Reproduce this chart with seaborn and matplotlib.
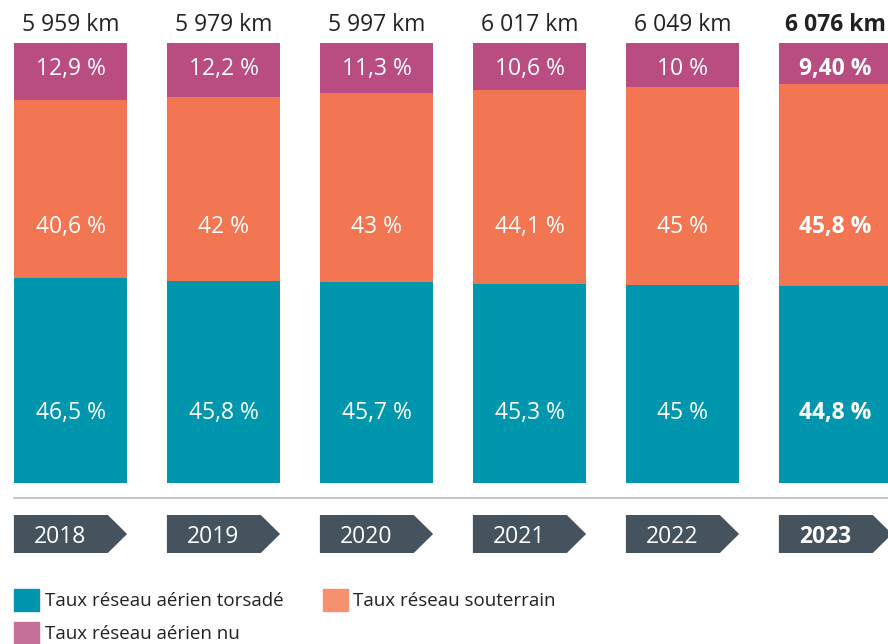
import matplotlib
matplotlib.use("Agg")
import matplotlib.pyplot as plt
from matplotlib.patches import Polygon, Patch
import seaborn as sns
import numpy as np

# donnees
annees = ["2018", "2019", "2020", "2021", "2022", "2023"]
longueur_km = ["5 959 km", "5 979 km", "5 997 km", "6 017 km", "6 049 km", "6 076 km"]
taux_torsade = [46.5, 45.8, 45.7, 45.3, 45.0, 44.8]
taux_souterrain = [40.6, 42.0, 43.0, 44.1, 45.0, 45.8]
taux_nu = [12.9, 12.2, 11.3, 10.6, 10.0, 9.4]
lbl_torsade = ["46,5 %", "45,8 %", "45,7 %", "45,3 %", "45 %", "44,8 %"]
lbl_souterrain = ["40,6 %", "42 %", "43 %", "44,1 %", "45 %", "45,8 %"]
lbl_nu = ["12,9 %", "12,2 %", "11,3 %", "10,6 %", "10 %", "9,40 %"]

c_torsade = "#0096AE"
c_souterrain = "#F27651"
c_nu = "#B94C81"
c_fleche = "#44535E"

sns.set_style("white")
plt.rcParams["font.family"] = ["Open Sans", "DejaVu Sans"]

fig = plt.figure(figsize=(8.88, 6.44), dpi=100)
ax = fig.add_axes([0, 0, 1, 1])

# barres empilees (on dessine du total vers le bas)
t = np.array(taux_torsade)
s = np.array(taux_souterrain)
n = np.array(taux_nu)
w = 0.74
sns.barplot(x=annees, y=t + s + n, color=c_nu, width=w, errorbar=None,
            saturation=1, ax=ax)
sns.barplot(x=annees, y=t + s, color=c_souterrain, width=w, errorbar=None,
            saturation=1, ax=ax)
sns.barplot(x=annees, y=t, color=c_torsade, width=w, errorbar=None,
            saturation=1, ax=ax)
for p in ax.patches:
    p.set_linewidth(0)

# 1 % = 4.4 px, base des barres a 483 px
ax.set_xlim(-70.5 / 153, (888 - 70.5) / 153)
ax.set_ylim(-(644 - 483) / 4.4, 100 + 43 / 4.4)
ax.axis("off")

fs = 16.5
for i, an in enumerate(annees):
    gras = "bold" if an == "2023" else "normal"
    ax.text(i, 104.1, longueur_km[i], ha="center", va="center", fontsize=fs,
            color="#222222", fontweight=gras)
    ax.text(i, 94.1, lbl_nu[i], ha="center", va="center", fontsize=fs,
            color="white", fontweight=gras)
    ax.text(i, 58.2, lbl_souterrain[i], ha="center", va="center", fontsize=fs,
            color="white", fontweight=gras)
    ax.text(i, 15.9, lbl_torsade[i], ha="center", va="center", fontsize=fs,
            color="white", fontweight=gras)

    # fleche annee
    g = i - w / 2
    y0, y1 = -(515 - 483) / 4.4, -(553 - 483) / 4.4
    ym = (y0 + y1) / 2
    ax.add_patch(Polygon([[g, y0], [g + 0.614, y0], [g + w, ym],
                          [g + 0.614, y1], [g, y1]], closed=True,
                         facecolor=c_fleche, edgecolor="none"))
    ax.text(g + 0.3, ym - 0.6, an, ha="center", va="center", fontsize=fs,
            color="white", fontweight=gras)

# ligne de separation
ax.plot([-w / 2, 6], [-(498 - 483) / 4.4] * 2, color="#C6C6C6", lw=1.5)

# legende
handles = [Patch(color="#0096AE", label="Taux réseau aérien torsadé"),
           Patch(color="#C47098", label="Taux réseau aérien nu"),
           Patch(color="#F6906F", label="Taux réseau souterrain")]
fig.legend(handles=handles, ncol=2, loc="upper left",
           bbox_to_anchor=(14 / 888, 1 - 589 / 644), frameon=False,
           fontsize=13.5, handlelength=1.33, handleheight=1.4,
           handletextpad=0.3, columnspacing=2.1, labelspacing=0.6,
           borderpad=0, borderaxespad=0, labelcolor="#222222")

plt.savefig("out.png", dpi=100)
